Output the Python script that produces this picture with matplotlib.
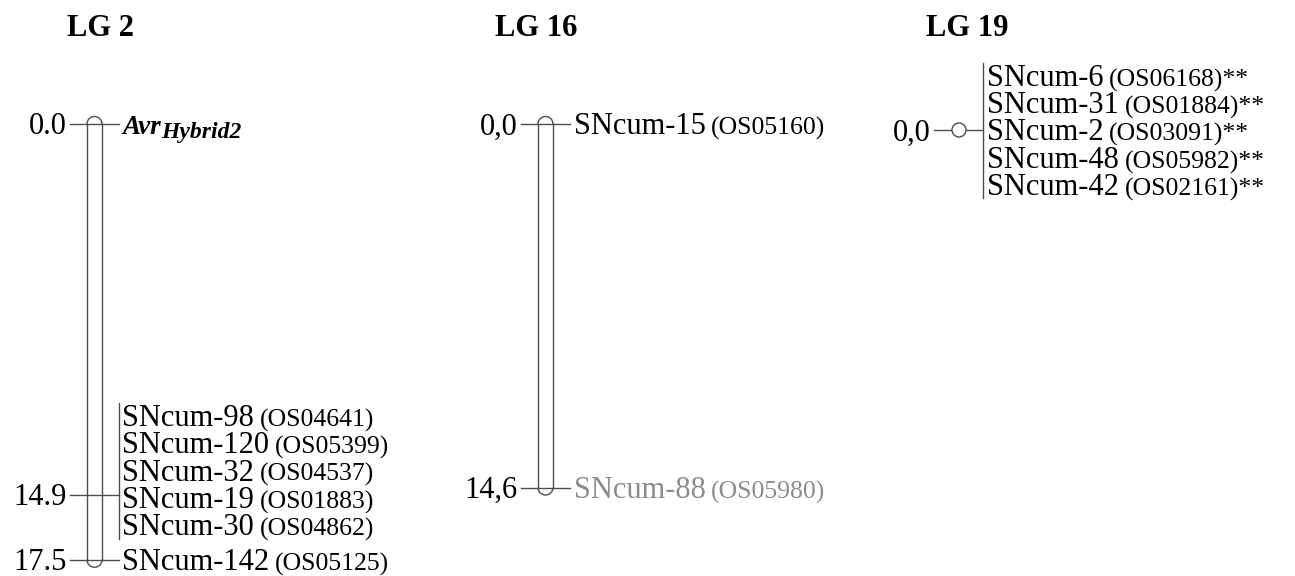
import matplotlib
matplotlib.use("Agg")
import matplotlib.pyplot as plt
from matplotlib import patches

plt.rcParams['font.family'] = ['Liberation Serif', 'DejaVu Serif']

# Data: linkage groups, positions (cM), markers
lg_titles = ["LG 2", "LG 16", "LG 19"]

lg2_names = ["SNcum-98", "SNcum-120", "SNcum-32", "SNcum-19", "SNcum-30", "SNcum-142"]
lg2_codes = ["OS04641", "OS05399", "OS04537", "OS01883", "OS04862", "OS05125"]
lg2_cm = [14.9, 14.9, 14.9, 14.9, 14.9, 17.5]
avr_cm = 0.0

lg16_names = ["SNcum-15", "SNcum-88"]
lg16_codes = ["OS05160", "OS05980"]
lg16_cm = [0.0, 14.6]
lg16_colors = ["black", "#8c8c8c"]

lg19_names = ["SNcum-6", "SNcum-31", "SNcum-2", "SNcum-48", "SNcum-42"]
lg19_codes = ["OS06168", "OS01884", "OS03091", "OS05982", "OS02161"]
lg19_cm = [0.0, 0.0, 0.0, 0.0, 0.0]

# layout (pixels horizontally, cM vertically)
W, H = 1295, 576
px_per_cm = 24.9
top_px = 124
lg_x = [94.5, 545.5, 959]
title_x = [100, 536, 967]
lg19_shift = 6 / px_per_cm
row_gap = 1.1
line_col = "#4d4d4d"
name_fs, code_fs, num_fs = 22, 18.5, 22
base = 0.42  # baseline offset of a label below its row centre (cM)

fig = plt.figure(figsize=(W / 100, H / 100), dpi=100)
ax = fig.add_axes([0, 0, 1, 1])
ax.set_xlim(0, W)
ax.set_ylim((H - top_px) / px_per_cm, -top_px / px_per_cm)
ax.axis('off')


def label(x, y, name, code, color="black", suffix=""):
    t = ax.text(x, y + base, name, fontsize=name_fs, color=color, ha='left', va='baseline')
    ax.annotate(f"({code})" + suffix, xy=(1, 0), xycoords=t, xytext=(4, 0.8),
                textcoords='offset points', fontsize=code_fs, color=color, ha='left', va='bottom')


def chromosome(xc, cm_end):
    r = 7.5
    ax.plot([xc - r, xc - r], [0, cm_end], color=line_col, lw=1.0)
    ax.plot([xc + r, xc + r], [0, cm_end], color=line_col, lw=1.0)
    h = 2 * r / px_per_cm
    ax.add_patch(patches.Arc((xc, 0), 2 * r, h, theta1=180, theta2=360, color=line_col, lw=1.0))
    ax.add_patch(patches.Arc((xc, cm_end), 2 * r, h, theta1=0, theta2=180, color=line_col, lw=1.0))


def tick(xc, cm, sep, y=None):
    y = cm if y is None else y
    ax.plot([xc - 25, xc + 24], [y, y], color=line_col, lw=1.0)
    ax.text(xc - 28, y + base, f"{cm:.1f}".replace(".", sep), fontsize=num_fs,
            ha='right', va='baseline')


def group(xc, rows, names, codes, suffix=""):
    xb = xc + 24
    ax.plot([xb, xb], [rows[0] - 0.5, rows[-1] + 0.55], color=line_col, lw=1.0)
    for r, n, c in zip(rows, names, codes):
        label(xb + 4, r, n, c, "black", suffix)


# titles
for tx, tt in zip(title_x, lg_titles):
    ax.text(tx, -3.85, tt, fontsize=22, fontweight='bold', ha='center', va='center')

# LG 2
x = lg_x[0]
chromosome(x, max(lg2_cm))
tick(x, avr_cm, ".")
a = ax.text(x + 28, avr_cm + base, "Avr", fontsize=19.5, fontweight='bold', style='italic',
            va='baseline')
ax.annotate("Hybrid2", xy=(1, 0), xycoords=a, xytext=(0, -1.5), textcoords='offset points',
            fontsize=17, fontweight='bold', style='italic', va='bottom')
grp_cm = lg2_cm[0]
n_grp = lg2_cm.count(grp_cm)
tick(x, grp_cm, ".")
last_row = lg2_cm[-1] - 1.4
rows = [last_row - row_gap * (n_grp - 1 - i) for i in range(n_grp)]
group(x, rows, lg2_names[:n_grp], lg2_codes[:n_grp])
tick(x, lg2_cm[-1], ".")
label(x + 28, lg2_cm[-1], lg2_names[-1], lg2_codes[-1])

# LG 16
x = lg_x[1]
chromosome(x, max(lg16_cm))
for cm, n, c, col in zip(lg16_cm, lg16_names, lg16_codes, lg16_colors):
    tick(x, cm, ",")
    label(x + 28, cm, n, c, col)

# LG 19
x = lg_x[2]
y0 = lg19_cm[0] + lg19_shift
tick(x, lg19_cm[0], ",", y=y0)
ax.add_patch(patches.Ellipse((x, y0), 14, 14 / px_per_cm, fc='white', ec=line_col, lw=1.0,
                             zorder=3))
n = len(lg19_names)
rows = [y0 + row_gap * (i - (n - 1) / 2) for i in range(n)]
group(x, rows, lg19_names, lg19_codes, suffix="**")

fig.savefig("out.png", dpi=100)
